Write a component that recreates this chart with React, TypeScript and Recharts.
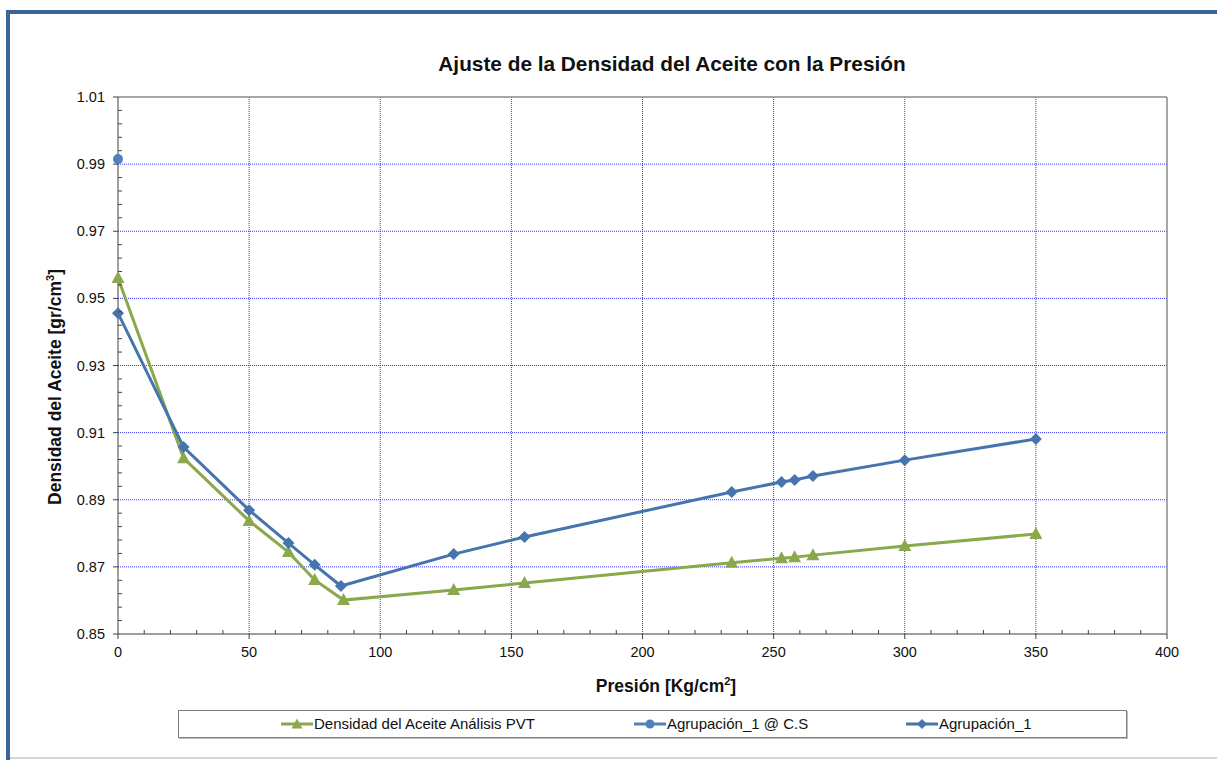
import * as React from 'react';
import { ComposedChart, Line, Scatter, XAxis, YAxis, CartesianGrid, ReferenceLine } from 'recharts';

// Presión [Kg/cm2] vs densidad [gr/cm3]
const presionPVT = [0, 25, 50, 65, 75, 86, 128, 155, 234, 253, 258, 265, 300, 350];
const densidadPVT = [0.9561, 0.9024, 0.8837, 0.8744, 0.8661, 0.8601, 0.8631, 0.8652, 0.8712, 0.8726, 0.8729, 0.8735, 0.8762, 0.8798];

const presionAgr = [0, 25, 50, 65, 75, 85, 128, 155, 234, 253, 258, 265, 300, 350];
const densidadAgr = [0.9456, 0.9057, 0.8869, 0.8771, 0.8706, 0.8643, 0.8738, 0.8789, 0.8923, 0.8953, 0.8959, 0.8971, 0.9018, 0.9081];

const presionCS = [0];
const densidadCS = [0.9915];

const xMajor = [0, 50, 100, 150, 200, 250, 300, 350, 400];
const yMajor = [0.85, 0.87, 0.89, 0.91, 0.93, 0.95, 0.97, 0.99, 1.01];

const titulo = 'Ajuste de la Densidad del Aceite con la Presión';
const serieNombres = ['Densidad del Aceite Análisis PVT', 'Agrupación_1 @ C.S', 'Agrupación_1'];

// minor ticks: every 10 on x, every 0.004 on y
const xTicks = Array.from({ length: 41 }, (_, i) => i * 10);
const yTicks = Array.from({ length: 41 }, (_, i) => Math.round((0.85 + i * 0.004) * 1000) / 1000);

const pvtData = presionPVT.map((p, i) => ({ p, d: densidadPVT[i] }));
const agrData = presionAgr.map((p, i) => ({ p, d: densidadAgr[i] }));
const csData = presionCS.map((p, i) => ({ p, d: densidadCS[i] }));

const VERDE = '#8aa84c';
const AZUL = '#4674ad';
const AZUL_CS = '#4f81bd';
const MARCO = '#3a6596';
const FONT = "Arial, 'Liberation Sans', sans-serif";

const isMajorX = (v: number) => xMajor.some((m) => Math.abs(m - v) < 1e-6);
const isMajorY = (v: number) => yMajor.some((m) => Math.abs(m - v) < 1e-6);

const XTick = (props: any) => {
  const { x, y, payload } = props;
  const major = isMajorX(payload.value);
  return (
    <g>
      {major ? (
        <line x1={x} y1={y} x2={x} y2={y + 5} stroke="#404040" />
      ) : (
        <line x1={x} y1={y - 4} x2={x} y2={y} stroke="#404040" />
      )}
      {major && (
        <text x={x} y={y + 23} textAnchor="middle" fontSize={14.5} fontFamily={FONT} fill="#111">
          {payload.value}
        </text>
      )}
    </g>
  );
};

const YTick = (props: any) => {
  const { x, y, payload } = props;
  const major = isMajorY(payload.value);
  return (
    <g>
      {major ? (
        <line x1={x - 5} y1={y} x2={x} y2={y} stroke="#404040" />
      ) : (
        <line x1={x} y1={y} x2={x + 4} y2={y} stroke="#404040" />
      )}
      {major && (
        <text x={x - 13} y={y + 5} textAnchor="end" fontSize={14.5} fontFamily={FONT} fill="#111">
          {payload.value.toFixed(2)}
        </text>
      )}
    </g>
  );
};

const Triangulo = (props: any) => {
  const { cx, cy, index } = props;
  if (cx == null || cy == null) return <g key={index} />;
  return <polygon key={index} points={`${cx},${cy - 7} ${cx - 6.5},${cy + 5} ${cx + 6.5},${cy + 5}`} fill={VERDE} />;
};

const Rombo = (props: any) => {
  const { cx, cy, index } = props;
  if (cx == null || cy == null) return <g key={index} />;
  return <polygon key={index} points={`${cx},${cy - 6} ${cx + 6},${cy} ${cx},${cy + 6} ${cx - 6},${cy}`} fill={AZUL} />;
};

const Circulo = (props: any) => {
  const { cx, cy } = props;
  return <circle cx={cx} cy={cy} r={5} fill={AZUL_CS} />;
};

const LegendIcon = ({ color, kind }: { color: string; kind: string }) => (
  <svg width={32} height={14} style={{ display: 'block' }}>
    <line x1={0} y1={7} x2={32} y2={7} stroke={color} strokeWidth={3} />
    {kind === 'tri' && <polygon points="16,1.5 10.5,11.5 21.5,11.5" fill={color} />}
    {kind === 'circ' && <circle cx={16} cy={7} r={4.5} fill={color} />}
    {kind === 'rombo' && <polygon points="16,2 21,7 16,12 11,7" fill={color} />}
  </svg>
);

export default function App() {
  const legendItems = [
    { name: serieNombres[0], color: VERDE, kind: 'tri', left: 281 },
    { name: serieNombres[1], color: AZUL_CS, kind: 'circ', left: 634 },
    { name: serieNombres[2], color: AZUL, kind: 'rombo', left: 906 },
  ];
  return (
    <div style={{ position: 'fixed', left: 0, top: 0, width: 1217, height: 760, overflow: 'hidden', background: '#fff', fontFamily: FONT }}>
      {/* marco exterior */}
      <div style={{ position: 'absolute', left: 6, top: 10, width: 1211, height: 4, background: MARCO }} />
      <div style={{ position: 'absolute', left: 6, top: 10, width: 4, height: 750, background: MARCO }} />
      <div style={{ position: 'absolute', left: 10, top: 757, width: 1207, height: 2, background: '#d0d6de' }} />

      <div style={{ position: 'absolute', left: 0, width: 1344, top: 52, textAlign: 'center', fontSize: 20.8, fontWeight: 'bold', color: '#111' }}>
        {titulo}
      </div>
      <div
        style={{
          position: 'absolute', left: 55, top: 387, transform: 'translate(-50%, -50%) rotate(-90deg)',
          whiteSpace: 'nowrap', fontSize: 17.5, fontWeight: 'bold', color: '#111',
        }}
      >
        Densidad del Aceite [gr/cm<sup style={{ fontSize: 11 }}>3</sup>]
      </div>
      <div style={{ position: 'absolute', left: 0, width: 1332, top: 675, textAlign: 'center', fontSize: 17.5, fontWeight: 'bold', color: '#111' }}>
        Presión [Kg/cm<sup style={{ fontSize: 11 }}>2</sup>]
      </div>

      <div style={{ position: 'absolute', left: 0, top: 0 }}>
        <ComposedChart width={1217} height={760} margin={{ top: 97, right: 50, bottom: 96, left: 58 }}>
          <CartesianGrid
            horizontalValues={yMajor.slice(1, -1)}
            verticalValues={xMajor.slice(1, -1)}
            stroke="#2f2fff"
            strokeDasharray="1 1"
          />
          <XAxis
            type="number"
            dataKey="p"
            domain={[0, 400]}
            ticks={xTicks}
            interval={0}
            tick={<XTick />}
            tickLine={false}
            tickSize={0}
            tickMargin={0}
            height={30}
            stroke="#404040"
          />
          <YAxis
            type="number"
            dataKey="d"
            domain={[0.85, 1.01]}
            ticks={yTicks}
            interval={0}
            tick={<YTick />}
            tickLine={false}
            tickSize={0}
            tickMargin={0}
            width={60}
            stroke="#404040"
          />
          <ReferenceLine y={1.01} stroke="#8a8a8a" strokeWidth={1.5} />
          <ReferenceLine x={400} stroke="#8a8a8a" strokeWidth={1.5} />
          <Line
            data={pvtData}
            dataKey="d"
            type="linear"
            stroke={VERDE}
            strokeWidth={3}
            dot={<Triangulo />}
            activeDot={false}
            isAnimationActive={false}
          />
          <Line
            data={agrData}
            dataKey="d"
            type="linear"
            stroke={AZUL}
            strokeWidth={3}
            dot={<Rombo />}
            activeDot={false}
            isAnimationActive={false}
          />
          <Scatter data={csData} dataKey="d" fill={AZUL_CS} shape={<Circulo />} isAnimationActive={false} />
        </ComposedChart>
      </div>

      <div
        style={{
          position: 'absolute', left: 178, top: 710, width: 947, height: 26,
          border: '1px solid #7f7f7f', boxShadow: '1px 1px 0 #bdbdbd', background: '#fff',
        }}
      />
      {legendItems.map((it) => (
        <div key={it.name} style={{ position: 'absolute', left: it.left, top: 716, display: 'flex', alignItems: 'center', fontSize: 15, color: '#111' }}>
          <LegendIcon color={it.color} kind={it.kind} />
          <span style={{ marginLeft: 1, lineHeight: '16px' }}>{it.name}</span>
        </div>
      ))}
    </div>
  );
}
